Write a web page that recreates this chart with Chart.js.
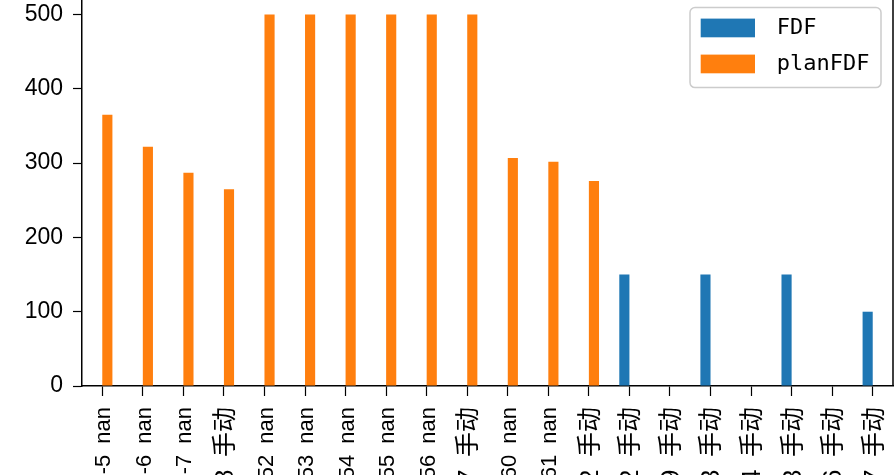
<!DOCTYPE html>
<html>
<head>
<meta charset="utf-8">
<script src="https://cdn.jsdelivr.net/npm/chart.js@4/dist/chart.umd.min.js"></script>
<style>
  html, body { margin: 0; padding: 0; background: #fff; overflow: hidden; }
  #wrap { position: absolute; left: 0; top: -24px; width: 895px; height: 620px; }
</style>
</head>
<body>
<div id="wrap"><canvas id="fdfChart" width="895" height="620"></canvas></div>
<script>
// categories (start of each label is cut off in the source picture)
const categories = [
    'FD-5 nan', 'FD-6 nan', 'FD-7 nan', 'FD-8 手动', 'FD-52 nan',
    'FD-53 nan', 'FD-54 nan', 'FD-55 nan', 'FD-56 nan', 'FD-57 手动',
    'FD-60 nan', 'FD-61 nan', 'FD-62 手动', 'FD-12 手动', 'FD-9 手动',
    'FD-13 手动', 'FD-14 手动', 'FD-23 手动', 'FD-16 手动', 'FD-17 手动'
];
const fdfValues = [
    null, null, null, null, null, null, null, null, null, null,
    null, null, null, 150, null, 150, null, 150, null, 100
];
const planFdfValues = [
    365, 322, 287, 265, 500, 500, 500, 500, 500, 500,
    307, 302, 276, null, null, null, null, null, null, null
];
const yTicks = [0, 100, 200, 300, 400, 500];

// legend box inside the plot, top right (matplotlib style)
const legendBox = {
    id: 'legendBox',
    afterDraw(chart) {
        const { ctx, chartArea } = chart;
        const w = 191, h = 80;
        const x = chartArea.right - 12 - w;
        const y = chartArea.top + 11.6;
        ctx.save();
        ctx.beginPath();
        ctx.roundRect(x, y, w, h, 5);
        ctx.fillStyle = 'rgba(255,255,255,0.8)';
        ctx.fill();
        ctx.strokeStyle = '#cccccc';
        ctx.lineWidth = 1.5;
        ctx.stroke();
        ctx.font = '22px "DejaVu Sans Mono"';
        ctx.textBaseline = 'middle';
        chart.data.datasets.forEach((ds, i) => {
            const ry = y + 11 + i * 36;
            ctx.fillStyle = ds.backgroundColor;
            ctx.fillRect(x + 10.7, ry, 54.3, 18.7);
            ctx.fillStyle = '#000';
            ctx.fillText(ds.label, x + 86.7, ry + 10);
        });
        ctx.restore();
    }
};

// top and right spines
const frame = {
    id: 'frame',
    afterDatasetsDraw(chart) {
        const { ctx, chartArea } = chart;
        ctx.save();
        ctx.strokeStyle = '#000';
        ctx.lineWidth = 1.5;
        ctx.beginPath();
        ctx.moveTo(chartArea.left, chartArea.top);
        ctx.lineTo(chartArea.right, chartArea.top);
        ctx.lineTo(chartArea.right, chartArea.bottom);
        ctx.stroke();
        ctx.restore();
    }
};

const ctx = document.getElementById('fdfChart').getContext('2d');
const fdfChart = new Chart(ctx, {
    type: 'bar',
    data: {
        // the source font has half-width spaces, so widen the gap a little
        labels: categories.map(s => s.replace(' ', '\u2002')),
        datasets: [{
            label: 'FDF',
            data: fdfValues,
            backgroundColor: '#1f77b4',
            borderWidth: 0
        }, {
            label: 'planFDF',
            data: planFdfValues,
            backgroundColor: '#ff7f0e',
            borderWidth: 0
        }]
    },
    plugins: [frame, legendBox],
    options: {
        responsive: false,
        animation: false,
        categoryPercentage: 0.5,
        barPercentage: 1.0,
        layout: { padding: { top: 20, right: 2, left: 0, bottom: 0 } },
        plugins: {
            legend: { display: false },
            tooltip: { enabled: false }
        },
        scales: {
            x: {
                offset: true,
                grid: {
                    drawOnChartArea: false,
                    drawTicks: true,
                    tickLength: 10,
                    tickColor: '#000',
                    tickWidth: 1.2,
                    offset: false
                },
                border: { display: true, color: '#000', width: 1.5 },
                ticks: {
                    autoSkip: false,
                    minRotation: 90,
                    maxRotation: 90,
                    padding: 11,
                    labelOffset: 2,
                    color: '#000',
                    font: c => ({
                        family: '"Liberation Sans", "Noto Sans CJK SC"',
                        size: String(categories[c.index]).includes('手动') ? 25 : 22
                    })
                },
                afterFit: scale => {
                    scale.height = 210;
                    scale.paddingLeft = 0;
                    scale.paddingRight = 0;
                }
            },
            y: {
                min: 0,
                max: 525,
                grid: {
                    drawOnChartArea: false,
                    drawTicks: true,
                    tickLength: 9,
                    tickColor: '#000',
                    tickWidth: 1.2
                },
                border: { display: true, color: '#000', width: 1.5 },
                ticks: {
                    padding: 10,
                    color: '#000',
                    font: { family: '"Liberation Sans"', size: 23 }
                },
                afterBuildTicks: scale => {
                    scale.ticks = yTicks.map(v => ({ value: v }));
                },
                afterFit: scale => {
                    scale.width = 82;
                    scale.paddingTop = 0;
                    scale.paddingBottom = 0;
                }
            }
        }
    }
});
</script>
</body>
</html>
